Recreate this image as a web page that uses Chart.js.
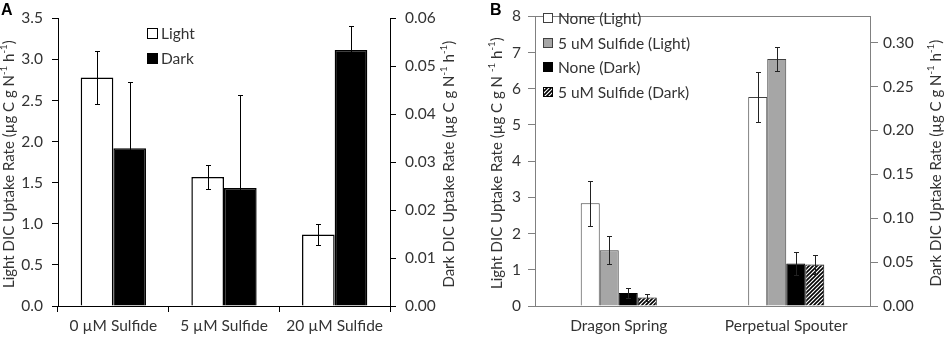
<!DOCTYPE html>
<html><head><meta charset="utf-8">
<script src="https://cdn.jsdelivr.net/npm/chart.js@4.4.1/dist/chart.umd.min.js"></script>
<style>
html,body{margin:0;padding:0;background:#fff;width:945px;height:339px;overflow:hidden}
.box{position:absolute;top:0;height:339px;width:470px}
#wa{left:0} #wb{left:475px}
</style></head><body>
<div class="box" id="wa"><canvas id="ca" width="470" height="339"></canvas></div>
<div class="box" id="wb"><canvas id="cb" width="470" height="339"></canvas></div>
<script>
// ---------- Panel A data ----------
const catsA = ['0 µM Sulfide', '5 µM Sulfide', '20 µM Sulfide'];
const lightA = [2.78, 1.57, 0.87];
const lightErrA = [0.32, 0.15, 0.13];
const darkA = [0.0329, 0.0246, 0.0534];
const darkErrA = [0.0139, 0.0194, 0.0049];
const leftTicksA = [0, 0.5, 1.0, 1.5, 2.0, 2.5, 3.0, 3.5];
const rightTicksA = [0, 0.01, 0.02, 0.03, 0.04, 0.05, 0.06];

// ---------- Panel B data ----------
const catsB = ['Dragon Spring', 'Perpetual Spouter'];
const noneLightB = [2.84, 5.77];
const noneLightErrB = [0.62, 0.70];
const sulfLightB = [1.54, 6.82];
const sulfLightErrB = [0.38, 0.33];
const noneDarkB = [0.0148, 0.0485];
const noneDarkErrB = [0.0060, 0.0134];
const sulfDarkB = [0.0096, 0.0474];
const sulfDarkErrB = [0.0038, 0.0112];
const leftTicksB = [0, 1, 2, 3, 4, 5, 6, 7, 8];
const rightTicksB = [0, 0.05, 0.10, 0.15, 0.20, 0.25, 0.30];

const FONT = 'Lato';
const TXT = '#333333';

// hatch pattern
function makeHatch(ctx) {
  const c = document.createElement('canvas');
  c.width = 4; c.height = 4;
  const g = c.getContext('2d');
  g.fillStyle = '#fff'; g.fillRect(0, 0, 4, 4);
  g.strokeStyle = '#000'; g.lineWidth = 1.6;
  g.beginPath();
  g.moveTo(-1, 5); g.lineTo(5, -1);
  g.moveTo(-1, 1); g.lineTo(1, -1);
  g.moveTo(3, 5); g.lineTo(5, 3);
  g.stroke();
  return ctx.createPattern(c, 'repeat');
}

const errorBars = {
  id: 'errorBars',
  afterDatasetsDraw(chart) {
    const ctx = chart.ctx;
    chart.data.datasets.forEach((ds, i) => {
      if (!ds.errors) return;
      const meta = chart.getDatasetMeta(i);
      const sc = chart.scales[ds.yAxisID];
      ctx.save();
      ctx.strokeStyle = ds.errColor || '#000';
      ctx.lineWidth = 1;
      meta.data.forEach((el, j) => {
        const v = ds.data[j], e = ds.errors[j];
        const x = Math.round(el.x) + 0.5;
        const yt = Math.round(sc.getPixelForValue(v + e)) + 0.5;
        const yb = Math.round(sc.getPixelForValue(Math.max(0, v - e))) + 0.5;
        ctx.beginPath();
        ctx.moveTo(x, yt); ctx.lineTo(x, yb);
        ctx.moveTo(x - 2.5, yt); ctx.lineTo(x + 2.5, yt);
        ctx.moveTo(x - 2.5, yb); ctx.lineTo(x + 2.5, yb);
        ctx.stroke();
      });
      ctx.restore();
    });
  }
};

function drawRich(ctx, parts, size) {
  let w = 0;
  const segs = parts.map(p => {
    const f = p.sup ? (size * 0.65) : size;
    ctx.font = f + 'px ' + FONT;
    const mw = ctx.measureText(p.t).width;
    w += mw;
    return {t: p.t, f, mw, sup: p.sup};
  });
  let x = -w / 2;
  segs.forEach(s => {
    ctx.font = s.f + 'px ' + FONT;
    ctx.fillText(s.t, x, s.sup ? -size * 0.35 : 0);
    x += s.mw;
  });
}

const decor = {
  id: 'decor',
  afterDraw(chart, args, opts) {
    const ctx = chart.ctx;
    const ca = chart.chartArea;
    ctx.save();
    ctx.fillStyle = TXT;
    ctx.textBaseline = 'middle';
    const cy = (ca.top + ca.bottom) / 2 + 2;
    (opts.titles || []).forEach(t => {
      ctx.save();
      ctx.translate(t.x, cy);
      ctx.rotate(-Math.PI / 2);
      drawRich(ctx, t.parts, t.size);
      ctx.restore();
    });
    ctx.fillStyle = '#000';
    ctx.font = 'bold 16px "Liberation Sans"';
    ctx.textBaseline = 'top';
    ctx.fillText(opts.letter.t, opts.letter.x, opts.letter.y);
    if (opts.topBorder) {
      ctx.strokeStyle = opts.topBorder; ctx.lineWidth = 1;
      ctx.beginPath();
      ctx.moveTo(ca.left, Math.round(ca.top) + 0.5);
      ctx.lineTo(ca.right, Math.round(ca.top) + 0.5);
      ctx.stroke();
    }
    const lg = opts.legend;
    ctx.textBaseline = 'middle';
    ctx.font = lg.size + 'px ' + FONT;
    chart.data.datasets.forEach((ds, i) => {
      const y = lg.y + i * lg.dy;
      const by = Math.round(y - lg.box / 2);
      ctx.fillStyle = ds.backgroundColor;
      ctx.fillRect(lg.x, by, lg.box, lg.box);
      ctx.strokeStyle = ds.legendBorder || '#000';
      ctx.lineWidth = 1;
      ctx.strokeRect(lg.x + 0.5, by + 0.5, lg.box - 1, lg.box - 1);
      ctx.fillStyle = TXT;
      ctx.fillText(ds.label, lg.x + lg.box + lg.gap, y + 1);
    });
    ctx.restore();
  }
};

function fixedTicks(arr) {
  return s => { s.ticks = arr.map(v => ({value: v})); };
}

const tickFont = {family: FONT, size: 15.5};

// ---------- Chart A ----------
new Chart(document.getElementById('ca'), {
  type: 'bar',
  data: {
    labels: catsA,
    datasets: [
      {label: 'Light', data: lightA, errors: lightErrA, yAxisID: 'y',
       backgroundColor: '#ffffff', borderColor: '#000', borderWidth: 1.5, legendBorder: '#000'},
      {label: 'Dark', data: darkA, errors: darkErrA, yAxisID: 'y1',
       backgroundColor: '#000000', borderColor: '#000', borderWidth: 1.5}
    ]
  },
  options: {
    responsive: false, animation: false,
    devicePixelRatio: 1,
    layout: {padding: {top: 9, bottom: 0, left: 0, right: 0}},
    datasets: {bar: {categoryPercentage: 0.59, barPercentage: 1.0}},
    plugins: {
      legend: {display: false}, tooltip: {enabled: false},
      decor: {
        letter: {t: 'A', x: 1, y: 3},
        titles: [
          {x: 9, size: 15, parts: [{t: 'Light DIC Uptake Rate (µg C g N'}, {t: '-1', sup: true}, {t: ' h'}, {t: '-1', sup: true}, {t: ')'}]},
          {x: 449, size: 15, parts: [{t: 'Dark DIC Uptake Rate (µg C g N'}, {t: '-1', sup: true}, {t: ' h'}, {t: '-1', sup: true}, {t: ')'}]}
        ],
        legend: {x: 147, y: 33, dy: 25, box: 11, size: 15.5, gap: 3}
      }
    },
    scales: {
      x: {
        afterFit: s => { s.height = 33; },
        grid: {display: true, drawOnChartArea: false, drawTicks: true, tickLength: 6, color: '#000', offset: true},
        border: {display: true, color: '#000', width: 1},
        ticks: {font: tickFont, color: TXT, padding: 5, maxRotation: 0, autoSkip: false}
      },
      y: {
        position: 'left', min: 0, max: 3.5,
        afterFit: s => { s.width = 58; },
        afterBuildTicks: fixedTicks(leftTicksA),
        grid: {drawOnChartArea: false, drawTicks: true, tickLength: 6, color: '#000'},
        border: {display: true, color: '#000', width: 1},
        ticks: {font: tickFont, color: TXT, padding: 9, callback: v => Number(v).toFixed(1)}
      },
      y1: {
        position: 'right', min: 0, max: 0.06,
        afterFit: s => { s.width = 80; },
        afterBuildTicks: fixedTicks(rightTicksA),
        grid: {drawOnChartArea: false, drawTicks: true, tickLength: 6, color: '#000'},
        border: {display: true, color: '#000', width: 1},
        ticks: {font: tickFont, color: TXT, padding: 9, callback: v => Number(v).toFixed(2)}
      }
    }
  },
  plugins: [errorBars, decor]
});

// ---------- Chart B ----------
const cb = document.getElementById('cb');
const hatchB = makeHatch(cb.getContext('2d'));
const GRAY = '#808080';
new Chart(cb, {
  type: 'bar',
  data: {
    labels: catsB,
    datasets: [
      {label: 'None (Light)', data: noneLightB, errors: noneLightErrB, yAxisID: 'y',
       backgroundColor: '#ffffff', borderColor: '#404040', borderWidth: 1, legendBorder: '#404040', errColor: '#222'},
      {label: '5 uM Sulfide (Light)', data: sulfLightB, errors: sulfLightErrB, yAxisID: 'y',
       backgroundColor: '#a6a6a6', borderColor: '#404040', borderWidth: 1, legendBorder: '#404040', errColor: '#222'},
      {label: 'None (Dark)', data: noneDarkB, errors: noneDarkErrB, yAxisID: 'y1',
       backgroundColor: '#000000', borderColor: '#000', borderWidth: 1, errColor: '#222'},
      {label: '5 uM Sulfide (Dark)', data: sulfDarkB, errors: sulfDarkErrB, yAxisID: 'y1',
       backgroundColor: hatchB, borderColor: '#000', borderWidth: 1, errColor: '#222'}
    ]
  },
  options: {
    responsive: false, animation: false,
    devicePixelRatio: 1,
    layout: {padding: {top: 9, bottom: 0, left: 0, right: 0}},
    datasets: {bar: {categoryPercentage: 0.454, barPercentage: 1.0}},
    plugins: {
      legend: {display: false}, tooltip: {enabled: false},
      decor: {
        letter: {t: 'B', x: 15, y: 3},
        topBorder: GRAY,
        titles: [
          {x: 22, size: 15, parts: [{t: 'Light DIC Uptake Rate (µg C g N '}, {t: '-1', sup: true}, {t: ' h'}, {t: '-1', sup: true}, {t: ')'}]},
          {x: 461, size: 15, parts: [{t: 'Dark DIC Uptake Rate (µg C g N'}, {t: '-1', sup: true}, {t: ' h'}, {t: '-1', sup: true}, {t: ')'}]}
        ],
        legend: {x: 68, y: 18, dy: 24.7, box: 10, size: 15.5, gap: 5}
      }
    },
    scales: {
      x: {
        afterFit: s => { s.height = 33; },
        grid: {display: false, drawTicks: false},
        border: {display: true, color: GRAY, width: 1},
        ticks: {font: tickFont, color: TXT, padding: 11, maxRotation: 0, autoSkip: false}
      },
      y: {
        position: 'left', min: 0, max: 8,
        afterFit: s => { s.width = 60; },
        afterBuildTicks: fixedTicks(leftTicksB),
        grid: {drawOnChartArea: false, drawTicks: true, tickLength: 7, color: GRAY},
        border: {display: true, color: GRAY, width: 1},
        ticks: {font: tickFont, color: TXT, padding: 7, callback: v => String(v)}
      },
      y1: {
        position: 'right', min: 0, max: 0.33,
        afterFit: s => { s.width = 75; },
        afterBuildTicks: fixedTicks(rightTicksB),
        grid: {drawOnChartArea: false, drawTicks: true, tickLength: 8, color: GRAY},
        border: {display: true, color: GRAY, width: 1},
        ticks: {font: tickFont, color: TXT, padding: 5, callback: v => Number(v).toFixed(2)}
      }
    }
  },
  plugins: [errorBars, decor]
});
</script>
</body></html>
